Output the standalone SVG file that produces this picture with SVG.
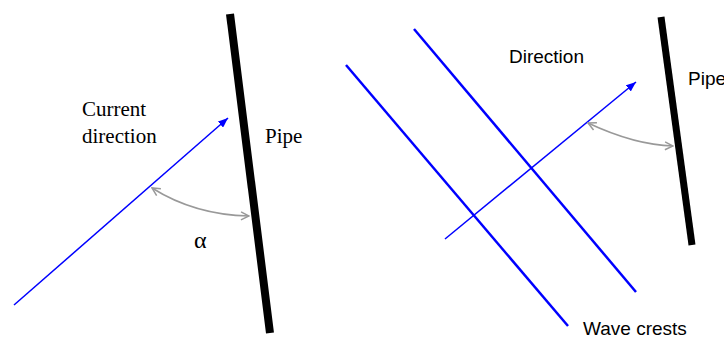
<svg xmlns="http://www.w3.org/2000/svg" width="724" height="338" viewBox="0 0 724 338">
<style>
.serif{font-family:"Liberation Serif","Times New Roman",serif;font-size:21px;fill:#000}
.sans{font-family:"Liberation Sans",Arial,sans-serif;font-size:19px;fill:#000}
.pipe{stroke:#000;stroke-width:8;fill:none}
.flow{stroke:#0000ff;stroke-width:1.5;fill:none}
.crest{stroke:#0000ff;stroke-width:2.5;fill:none}
.angle{stroke:#999;stroke-width:1.5;fill:none}
</style>
<defs>
<marker id="blueHead" viewBox="0 0 10 8" refX="10" refY="4" markerWidth="10" markerHeight="8" markerUnits="userSpaceOnUse" orient="auto">
<path d="M0,0 L10,4 L0,8 Z" fill="#0000ff"/>
</marker>
<marker id="greyHead" viewBox="0 0 10 10" refX="9" refY="5" markerWidth="10" markerHeight="10" markerUnits="userSpaceOnUse" orient="auto-start-reverse">
<path d="M1,1 L9,5 L1,9" fill="none" stroke="#999" stroke-width="1.5"/>
</marker>
</defs>
<g id="pipe-left"><line class="pipe" x1="230" y1="14" x2="270" y2="333"/></g>
<g id="pipe-right"><line class="pipe" x1="661" y1="17" x2="692" y2="245" style="stroke-width:7"/></g>
<g id="wave-crest-1"><line class="crest" x1="346" y1="65" x2="568" y2="326"/></g>
<g id="wave-crest-2"><line class="crest" x1="414" y1="29" x2="636" y2="292"/></g>
<g id="connectors">
<line class="flow" x1="14" y1="305" x2="228" y2="118" marker-end="url(#blueHead)"/>
<line class="flow" x1="445" y1="239" x2="636" y2="82" marker-end="url(#blueHead)"/>
<path class="angle" d="M152,188 Q195,215 249,216" marker-start="url(#greyHead)" marker-end="url(#greyHead)"/>
<path class="angle" d="M588,123 Q635,145 673,146" marker-start="url(#greyHead)" marker-end="url(#greyHead)"/>
</g>
<g id="labels">
<text class="serif" x="82" y="116">Current</text>
<text class="serif" x="82" y="143">direction</text>
<text class="serif" x="265" y="143">Pipe</text>
<text class="serif" x="194" y="248" style="font-size:24px">α</text>
<text class="sans" x="509" y="63">Direction</text>
<text class="sans" x="688" y="85">Pipe</text>
<text class="sans" x="583" y="335">Wave crests</text>
</g>
</svg>
